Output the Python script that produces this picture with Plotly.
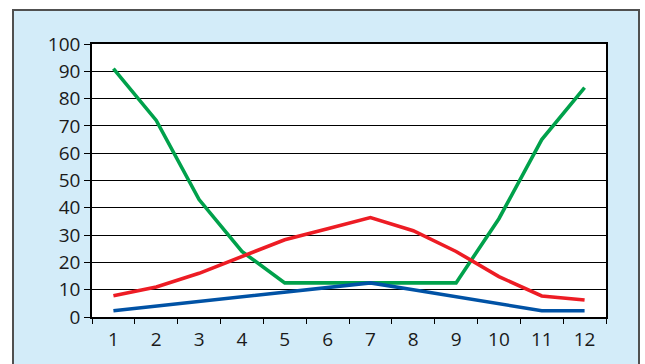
import plotly.graph_objects as go

months = [str(m) for m in range(1, 13)]
green_vals = [91, 72, 43, 24, 12.5, 12.5, 12.5, 12.5, 12.5, 36, 65, 84]
red_vals = [7.8, 11, 16, 22, 28.3, 32.3, 36.4, 31.6, 24, 14.8, 7.7, 6.2]
blue_vals = [2.3, 4, 5.6, 7.3, 9, 10.8, 12.5, 10, 7.4, 4.8, 2.3, 2.3]

y_ticks = list(range(0, 101, 10))

W, H = 645, 364
L, R, T, B = 92, 39, 44, 47
pw, ph = W - L - R, H - T - B

def px_x(p):
    return (p - L) / pw

def px_y(p):
    return (H - B - p) / ph

fig = go.Figure()
for vals, col in [(green_vals, "#00a14b"), (red_vals, "#ed1c24"), (blue_vals, "#0052a5")]:
    fig.add_trace(go.Scatter(x=months, y=vals, mode="lines",
                             line=dict(color=col, width=3.6), showlegend=False))

# outer light-blue panel and white plot area
fig.add_shape(type="rect", xref="paper", yref="paper",
              x0=px_x(13), x1=px_x(639), y0=px_y(380), y1=px_y(10),
              fillcolor="#d3ecf9", line=dict(color="#505050", width=2), layer="below")
fig.add_shape(type="rect", xref="paper", yref="paper",
              x0=0, x1=1, y0=0, y1=1,
              fillcolor="white", line=dict(width=0), layer="below")

font = dict(family="Open Sans, Noto Sans, sans-serif", size=19, color="#1a1a1a")
fig.update_layout(
    width=W, height=H,
    margin=dict(l=L, r=R, t=T, b=B),
    paper_bgcolor="white", plot_bgcolor="rgba(0,0,0,0)",
    font=font,
    xaxis=dict(type="category", tickson="boundaries", ticks="outside", ticklen=5,
               range=[-0.5, 11.5], ticklabelstandoff=4,
               tickcolor="black", tickwidth=1.2, showgrid=False,
               showline=True, linecolor="black", linewidth=1.5, mirror=True,
               tickfont=font, zeroline=False),
    yaxis=dict(range=[0, 100], tickvals=y_ticks, ticks="outside", ticklen=6,
               tickcolor="black", tickwidth=1.2, showgrid=True, gridcolor="black",
               gridwidth=1.2, showline=True, linecolor="black", linewidth=1.5,
               mirror=True, tickfont=font, zeroline=False),
)

fig.write_html("out.html")
